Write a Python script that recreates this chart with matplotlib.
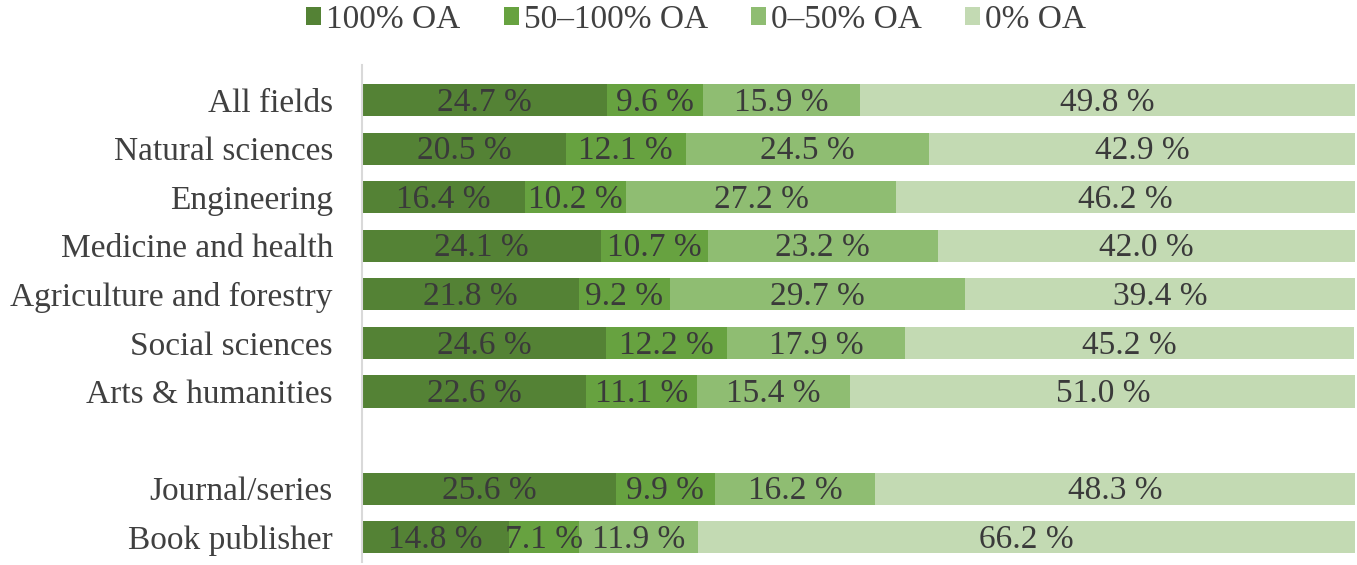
import matplotlib
import matplotlib.pyplot as plt
import numpy as np
from matplotlib.patches import Patch

matplotlib.use("Agg")

CATEGORIES = [
    "All fields",
    "Natural sciences",
    "Engineering",
    "Medicine and health",
    "Agriculture and forestry",
    "Social sciences",
    "Arts & humanities",
    "Journal/series",
    "Book publisher",
]
SERIES = ["100% OA", "50\u2013100% OA", "0\u201350% OA", "0% OA"]
OA_100 = [24.7, 20.5, 16.4, 24.1, 21.8, 24.6, 22.6, 25.6, 14.8]
OA_50_100 = [9.6, 12.1, 10.2, 10.7, 9.2, 12.2, 11.1, 9.9, 7.1]
OA_0_50 = [15.9, 24.5, 27.2, 23.2, 29.7, 17.9, 15.4, 16.2, 11.9]
OA_0 = [49.8, 42.9, 46.2, 42.0, 39.4, 45.2, 51.0, 48.3, 66.2]

COLORS = ["#548235", "#67a240", "#8fbd72", "#c3dab3"]
TEXT = "#404040"

plt.rcParams.update({
    "font.family": ["Liberation Serif", "DejaVu Serif"],
    "font.size": 24,
    "text.color": TEXT,
})

# blank row between the field rows and the venue-type rows
y = np.arange(len(CATEGORIES), dtype=float)
y[7:] += 1

fig = plt.figure(figsize=(13.57, 5.65), dpi=100)
ax = fig.add_axes([0.2668, 0.0053, 0.7317, 0.8797])

left = np.zeros(len(CATEGORIES))
for name, vals, color in zip(SERIES, [OA_100, OA_50_100, OA_0_50, OA_0], COLORS):
    vals = np.array(vals)
    ax.barh(y, vals, left=left, height=0.66, color=color, label=name)
    for yi, l, v in zip(y, left, vals):
        ax.text(l + v / 2, yi + 0.05, f"{v:.1f} %", ha="center", va="center", color="#3a3a3a")
    left += vals

ax.set_xlim(0, 100)
ax.set_ylim(9.51, -0.72)
ax.set_yticks(y)
ax.set_yticklabels(CATEGORIES, color=TEXT)
ax.tick_params(axis="y", length=0, pad=21)
ax.set_xticks([])
for side in ["top", "right", "bottom"]:
    ax.spines[side].set_visible(False)
ax.spines["left"].set_color("#d9d9d9")
ax.spines["left"].set_linewidth(1.5)

handles = [Patch(facecolor=c, edgecolor="none") for c in COLORS]
fig.legend(handles, SERIES, loc="upper center", bbox_to_anchor=(0.513, 1.045), ncol=4,
           frameon=False, handlelength=0.45, handleheight=0.45, handletextpad=0.15,
           columnspacing=1.3, labelcolor=TEXT)

fig.savefig("out.png", dpi=100)
